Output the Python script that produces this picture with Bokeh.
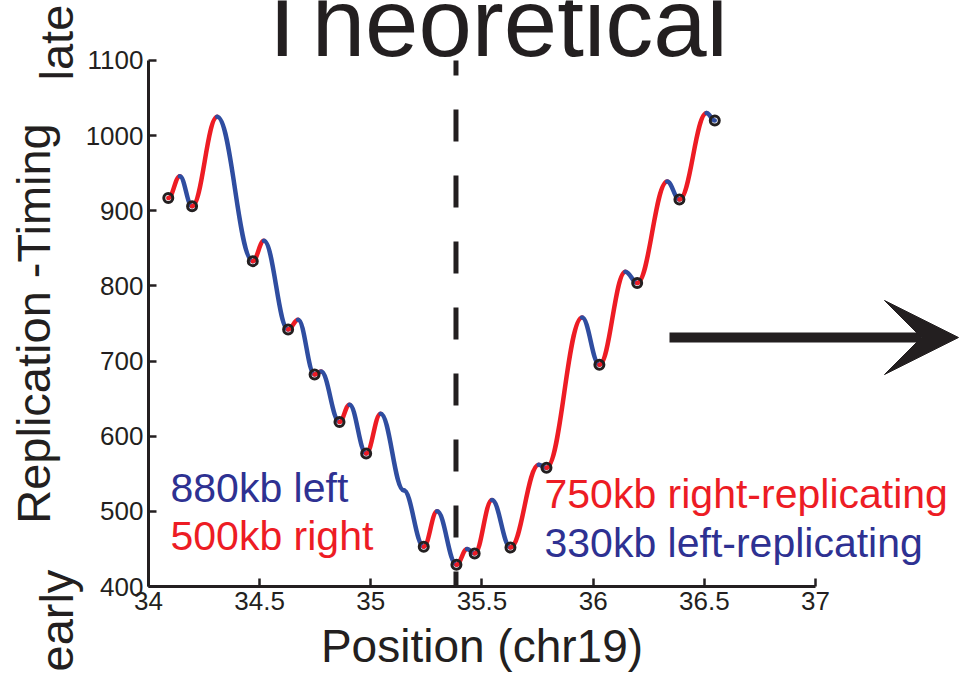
from math import pi
from bokeh.plotting import figure
from bokeh.models import Label, Arrow, VeeHead, FixedTicker
from bokeh.embed import file_html
from bokeh.resources import INLINE

# ---- data ----
# turning points of the theoretical timing curve (position in Mb, timing)
knot_pos = [34.089, 34.141, 34.196, 34.309, 34.469, 34.519, 34.628, 34.673,
            34.747, 34.776, 34.859, 34.904, 34.979, 35.044, 35.148, 35.238,
            35.298, 35.385, 35.433, 35.467, 35.545, 35.628, 35.755, 35.790,
            35.950, 36.028, 36.145, 36.198, 36.333, 36.388, 36.510, 36.547]
knot_timing = [917, 946, 906, 1025, 833, 860, 742, 755,
               682, 686, 619, 642, 577, 630, 528, 453,
               500, 429, 450, 444, 515, 452, 562, 558,
               758, 695, 819, 804, 939, 915, 1030, 1020]
boundary_pos = 35.383
x_ticks = [34, 34.5, 35, 35.5, 36, 36.5, 37]
x_tick_labels = ["34", "34.5", "35", "35.5", "36", "36.5", "37"]
y_ticks = [400, 500, 600, 700, 800, 900, 1000, 1100]
left_notes = ["880kb left", "500kb right"]
right_notes = ["750kb right-replicating", "330kb left-replicating"]

RED = "#ed1c24"
BLUE_LINE = "#2f4da0"
NAVY = "#2e3192"
INK = "#231f20"
FONT = "Liberation Sans"

W, H = 960, 672
# pixel placement of the axes box inside the canvas
AX_L, AX_B = 148, 586
PX_PER_MB = 222.33
PX_PER_T = 0.75143

def dx(px):
    return 34 + (px - AX_L) / PX_PER_MB

def dy(py):
    return 400 + (AX_B - py) / PX_PER_T

p = figure(width=W, height=H, x_range=(dx(0), dx(W)), y_range=(dy(H), dy(0)),
           output_backend="svg", toolbar_location=None,
           min_border_left=0, min_border_right=0, min_border_top=0, min_border_bottom=0)
p.grid.visible = False
p.outline_line_color = None
p.background_fill_color = "white"
p.border_fill_color = "white"

for ax in (p.xaxis[0], p.yaxis[0]):
    ax.axis_line_width = 3
    ax.axis_line_color = INK
    ax.major_tick_in = 8
    ax.major_tick_out = 0
    ax.major_tick_line_width = 2.5
    ax.major_tick_line_color = INK
    ax.minor_tick_line_color = None
    ax.major_label_text_font = FONT
    ax.major_label_text_font_size = "26px"
    ax.major_label_text_color = INK
    ax.axis_label_text_font = FONT
    ax.axis_label_text_font_style = "normal"
    ax.axis_label_text_color = INK

p.xaxis.fixed_location = 400
p.xaxis.bounds = (34, 37)
p.xaxis.ticker = FixedTicker(ticks=x_ticks)
p.xaxis.major_label_overrides = {t: s for t, s in zip(x_ticks, x_tick_labels)}
p.xaxis.major_label_standoff = 5
p.xaxis.axis_label = "Position (chr19)"
p.xaxis.axis_label_text_font_size = "46px"
p.xaxis.axis_label_standoff = 7

p.yaxis.fixed_location = 34
p.yaxis.bounds = (400, 1100)
p.yaxis.ticker = FixedTicker(ticks=y_ticks)
p.yaxis.major_label_standoff = 5
p.yaxis.axis_label = "Replication -Timing"
p.yaxis.axis_label_text_font_size = "47px"
p.yaxis.axis_label_standoff = 23

# smooth curve: each piece between turning points as a cubic with flat ends
k = 0.4
x0s, y0s, x1s, y1s, cx0, cy0, cx1, cy1, cols = [], [], [], [], [], [], [], [], []
for i in range(len(knot_pos) - 1):
    xa, ya, xb, yb = knot_pos[i], knot_timing[i], knot_pos[i + 1], knot_timing[i + 1]
    d = xb - xa
    x0s.append(xa); y0s.append(ya); x1s.append(xb); y1s.append(yb)
    cx0.append(xa + k * d); cy0.append(ya)
    cx1.append(xb - k * d); cy1.append(yb)
    cols.append(RED if yb > ya else BLUE_LINE)
p.bezier(x0=x0s, y0=y0s, x1=x1s, y1=y1s, cx0=cx0, cy0=cy0, cx1=cx1, cy1=cy1,
         line_color=cols, line_width=4.5, line_cap="round")

# origins = local minima of the curve
ox, oy = [], []
n = len(knot_pos)
for i in range(n):
    left_ok = i == 0 or knot_timing[i - 1] > knot_timing[i]
    right_ok = i == n - 1 or knot_timing[i + 1] > knot_timing[i]
    if left_ok and right_ok:
        ox.append(knot_pos[i]); oy.append(knot_timing[i])
p.scatter(ox, oy, marker="circle", size=9, fill_color=None, line_color=INK, line_width=3)

# dashed boundary
p.segment(x0=[boundary_pos], y0=[1100], x1=[boundary_pos], y1=[400],
          line_color=INK, line_width=5, line_dash="32 34", line_dash_offset=17)

BASE_SHIFT = 0.345  # label anchor sits this many font sizes above the baseline

def lab(text, px, py_base, size, color=INK, align="left", rotated=False):
    if rotated:
        x, y, ang = dx(px - BASE_SHIFT * size), dy(py_base), pi / 2
    else:
        x, y, ang = dx(px), dy(py_base - BASE_SHIFT * size), 0.0
    p.add_layout(Label(x=x, y=y, text=text, text_font=FONT, text_font_size=f"{size}px",
                       text_color=color, text_align=align, text_baseline="alphabetic",
                       angle=ang))

lab("Theoretical", 490, 55, 96, align="center")
lab("late", 72, 80, 47, rotated=True)
lab("early", 72, 671, 47, rotated=True)
lab(left_notes[0], 170, 502, 41, color=NAVY)
lab(left_notes[1], 170, 550, 41, color=RED)
lab(right_notes[0], 544, 508, 41, color=RED)
lab(right_notes[1], 544, 557, 41, color=NAVY)

p.add_layout(Arrow(x_start=dx(669), y_start=dy(337), x_end=dx(958), y_end=dy(337),
                   line_width=10, line_color=INK,
                   end=VeeHead(size=74, fill_color=INK, line_color=INK, line_width=1)))

open("out.html", "w").write(file_html(p, INLINE))
